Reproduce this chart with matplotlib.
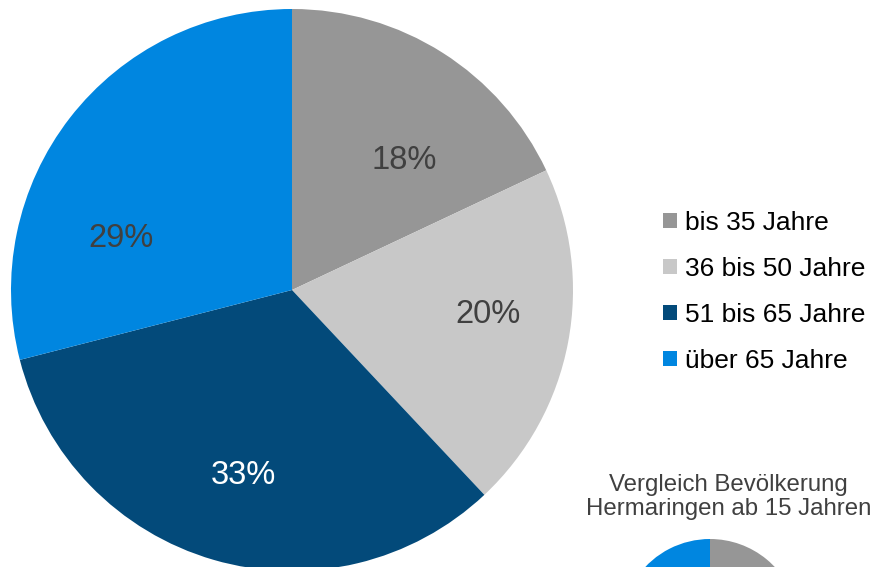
import matplotlib.pyplot as plt
import numpy as np

plt.rcParams['font.family'] = ['Liberation Sans', 'DejaVu Sans']

categories = ["bis 35 Jahre", "36 bis 50 Jahre", "51 bis 65 Jahre", "über 65 Jahre"]
shares = [18, 20, 33, 29]
# comparison pie (only the top of it is visible in the original)
population_shares = [22, 21, 27, 30]
colors = ["#969696", "#C8C8C8", "#034A7A", "#0086E0"]
label_colors = ["#404040", "#404040", "white", "#404040"]
# label placement (angle from top clockwise in degrees, distance as fraction of radius)
label_pos = [(40, 0.62), (96, 0.70), (195, 0.67), (288, 0.64)]

W, H = 874, 567
fig = plt.figure(figsize=(W / 100, H / 100), dpi=100)
ax = fig.add_axes([0, 0, 1, 1])

cx, cy, r = 292, H - 290, 281
wedges, _ = ax.pie(shares, colors=colors, startangle=90, counterclock=False,
                   center=(cx, cy), radius=r, wedgeprops=dict(linewidth=0))

for (ang, dist), val, col in zip(label_pos, shares, label_colors):
    a = np.deg2rad(ang)
    ax.text(cx + dist * r * np.sin(a), cy - 4 + dist * r * np.cos(a), f"{val}%",
            ha="center", va="center", fontsize=23.5, color=col)

# small comparison pie
ax.pie(population_shares, colors=colors, startangle=90, counterclock=False,
       center=(710, H - 628), radius=89, wedgeprops=dict(linewidth=0))
ax.text(728.5, H - 497, "Vergleich Bevölkerung\nHermaringen ab 15 Jahren",
        ha="center", va="center", fontsize=17.3, color="#404040", linespacing=1.15)

ax.set_xlim(0, W)
ax.set_ylim(0, H)
ax.set_aspect("equal")
ax.axis("off")

fig.legend(wedges, categories, loc="upper left",
           bbox_to_anchor=(663 / W, 1 - 211 / H), frameon=False,
           fontsize=19, handlelength=0.52, handleheight=0.52,
           handletextpad=0.3, labelspacing=0.83, borderpad=0, borderaxespad=0)

plt.savefig("out.png", dpi=100)
